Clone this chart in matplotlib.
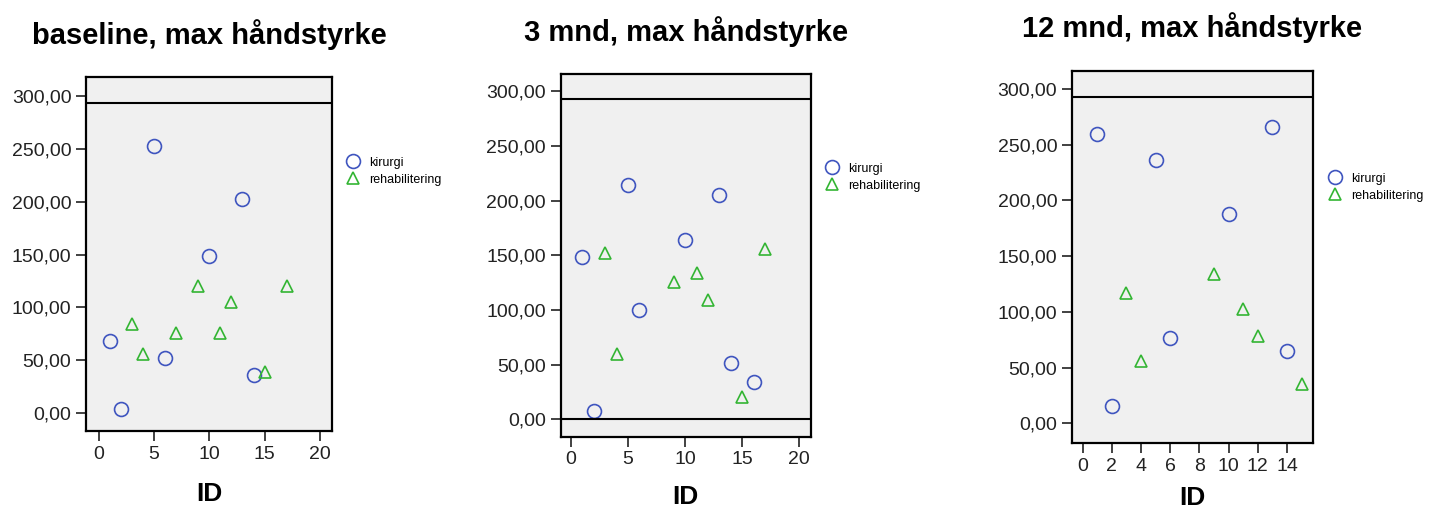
import matplotlib
matplotlib.use("Agg")
import matplotlib.pyplot as plt
from matplotlib.ticker import FuncFormatter

plt.rcParams['font.family'] = ['Liberation Sans', 'DejaVu Sans']

titles = ["baseline, max håndstyrke", "3 mnd, max håndstyrke", "12 mnd, max håndstyrke"]
groups = ["kirurgi", "rehabilitering"]

# baseline
base_kir_id = [1, 2, 5, 6, 10, 13, 14]
base_kir_val = [68.5, 3.5, 253, 52.4, 148.7, 202.6, 36.3]
base_reh_id = [3, 4, 7, 9, 11, 12, 15, 17]
base_reh_val = [84, 56, 76, 120, 76, 105, 39, 120]

# 3 mnd
m3_kir_id = [1, 2, 5, 6, 10, 13, 14, 16]
m3_kir_val = [148.3, 7.6, 214, 100, 164, 205.4, 51.6, 34.4]
m3_reh_id = [3, 4, 9, 11, 12, 15, 17]
m3_reh_val = [152, 60, 126, 134, 109, 20, 156]

# 12 mnd
m12_kir_id = [1, 2, 5, 6, 10, 13, 14]
m12_kir_val = [259.4, 15.8, 236, 76.3, 188, 265.7, 65.2]
m12_reh_id = [3, 4, 9, 11, 12, 15]
m12_reh_val = [117, 56, 134, 103, 78.5, 35]

y_ticks = [0, 50, 100, 150, 200, 250, 300]
ref_line = 293

panels = [
    (base_kir_id, base_kir_val, base_reh_id, base_reh_val),
    (m3_kir_id, m3_kir_val, m3_reh_id, m3_reh_val),
    (m12_kir_id, m12_kir_val, m12_reh_id, m12_reh_val),
]
x_ticks = [[0, 5, 10, 15, 20], [0, 5, 10, 15, 20], [0, 2, 4, 6, 8, 10, 12, 14]]
xlims = [(-1.15, 21.1), (-0.9, 21.0), (-0.75, 15.8)]
ylims = [(-17, 318), (-16, 316), (-18, 316.5)]
rects = [
    [0.0598, 0.1615, 0.1711, 0.6887],
    [0.3899, 0.1504, 0.1739, 0.7056],
    [0.7453, 0.1375, 0.1680, 0.7250],
]
leg_pos = [(1.0, 0.80), (1.0, 0.78), (1.0, 0.75)]
label_pads = [14, 12, 8]

blue = '#3f55bf'
green = '#33b533'

fig = plt.figure(figsize=(14.38, 5.14), dpi=100)
fmt = FuncFormatter(lambda v, p: f"{v:.2f}".replace('.', ','))

for i, (kx, ky, rx, ry) in enumerate(panels):
    ax = fig.add_axes(rects[i])
    ax.set_facecolor('#f0f0f0')
    ax.plot(kx, ky, 'o', mfc='none', mec=blue, mew=1.2, ms=10, ls='none', label=groups[0])
    ax.plot(rx, ry, '^', mfc='none', mec=green, mew=1.2, ms=9, ls='none', label=groups[1])
    ax.axhline(ref_line, color='black', lw=1.5)
    if i == 1:
        ax.axhline(0, color='black', lw=1.5)
    ax.set_xlim(*xlims[i])
    ax.set_ylim(*ylims[i])
    ax.set_xticks(x_ticks[i])
    ax.set_yticks(y_ticks)
    ax.yaxis.set_major_formatter(fmt)
    ax.tick_params(labelsize=14, length=7, width=1.3, color='#333333', labelcolor='#222222')
    for s in ax.spines.values():
        s.set_linewidth(1.6)
    ax.set_title(titles[i], fontsize=21, fontweight='bold', pad=24)
    ax.set_xlabel("ID", fontsize=19, fontweight='bold', labelpad=label_pads[i])
    ax.legend(loc='upper left', bbox_to_anchor=leg_pos[i], frameon=False,
              fontsize=9, handletextpad=0.3, borderaxespad=0.3, labelspacing=0.4)

fig.savefig("out.png", dpi=100)
